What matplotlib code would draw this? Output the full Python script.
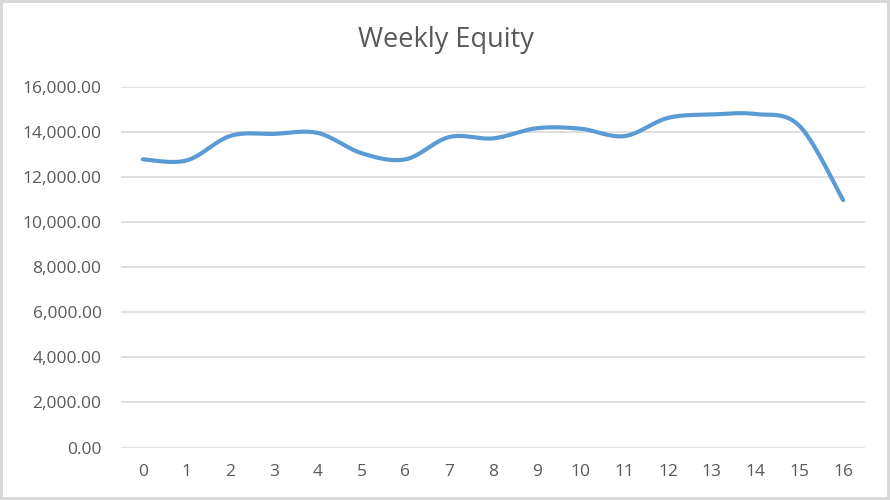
import numpy as np
import matplotlib.pyplot as plt
from matplotlib.ticker import FuncFormatter

weeks = list(range(17))
equity = [12790, 12740, 13830, 13920, 13960, 13060, 12790, 13780, 13720,
          14170, 14150, 13820, 14630, 14780, 14800, 14280, 10980]


def smooth(x, y, n=30):
    # Catmull-Rom style smoothing, like Excel's "smoothed line"
    x = np.asarray(x, float)
    y = np.asarray(y, float)
    px = np.concatenate([[x[0]], x, [x[-1]]])
    py = np.concatenate([[y[0]], y, [y[-1]]])
    xs, ys = [], []
    t = np.linspace(0, 1, n, endpoint=False)
    for i in range(1, len(px) - 2):
        p0, p1, p2, p3 = [np.array([px[j], py[j]]) for j in (i - 1, i, i + 1, i + 2)]
        c1 = p1 + (p2 - p0) / 6
        c2 = p2 - (p3 - p1) / 6
        pts = ((1 - t) ** 3)[:, None] * p1 + (3 * (1 - t) ** 2 * t)[:, None] * c1 \
            + (3 * (1 - t) * t ** 2)[:, None] * c2 + (t ** 3)[:, None] * p2
        xs.extend(pts[:, 0])
        ys.extend(pts[:, 1])
    xs.append(x[-1])
    ys.append(y[-1])
    return xs, ys


plt.rcParams['font.family'] = ['Open Sans', 'DejaVu Sans']
grey = '#595959'

fig = plt.figure(figsize=(8.9, 5.0), dpi=100)
fig.patch.set_edgecolor('#d9d9d9')
fig.patch.set_linewidth(3)
ax = fig.add_axes([121 / 890, 1 - 447.5 / 500, (865 - 121) / 890, (447.5 - 87) / 500])

sx, sy = smooth(weeks, equity)
ax.plot(sx, sy, color='#5b9bd5', lw=3, solid_capstyle='round')

ax.set_xlim(-0.5, 16.5)
ax.set_ylim(0, 16000)
ax.set_xticks(weeks)
ax.set_yticks(np.arange(0, 16001, 2000))
ax.yaxis.set_major_formatter(FuncFormatter(lambda v, p: f'{v:,.2f}'))
ax.grid(axis='y', color='#d9d9d9', lw=1.2)
ax.set_axisbelow(True)
for s in ax.spines.values():
    s.set_visible(False)
ax.tick_params(length=0, colors=grey, labelsize=12.5)
ax.tick_params(axis='x', pad=12)
ax.tick_params(axis='y', pad=14)

fig.text(446 / 890, 1 - 40 / 500, 'Weekly Equity', ha='center', va='center',
         fontsize=19.5, color=grey)

fig.savefig('out.png', dpi=100, edgecolor=fig.get_edgecolor())
